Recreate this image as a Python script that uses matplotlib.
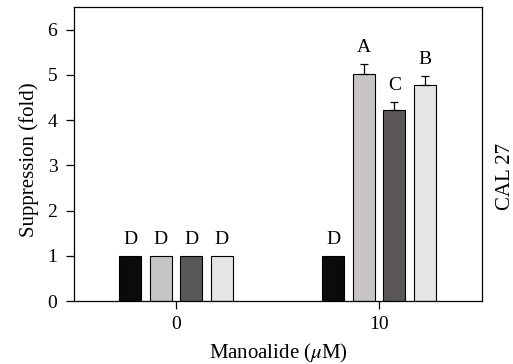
import matplotlib

matplotlib.use('Agg')  # backend to non-interactive
import matplotlib.pyplot as plt
import numpy as np

plt.rcParams['font.family'] = ['Liberation Serif', 'DejaVu Serif']
plt.rcParams['mathtext.fontset'] = 'stix'

# Data
doses = ['0', '10']
values_0 = [1.0, 1.0, 1.0, 1.0]
values_10 = [1.0, 5.02, 4.22, 4.77]
errors_0 = [0, 0, 0, 0]
errors_10 = [0, 0.22, 0.19, 0.21]
letters_0 = ['D', 'D', 'D', 'D']
letters_10 = ['D', 'A', 'C', 'B']
colors = ['#0b0b0b', '#c8c4c3', '#5b5756', '#e5e5e5']

fig = plt.figure(figsize=(5.13, 3.64), dpi=100)
ax = fig.add_axes([74 / 513, 1 - 301 / 364, 408 / 513, 294 / 364])

width = 0.108
step = 0.15
offsets = (np.arange(4) - 1.5) * step

for g, (vals, errs, lets) in enumerate([(values_0, errors_0, letters_0),
                                        (values_10, errors_10, letters_10)]):
    for i in range(4):
        x = g + offsets[i]
        ax.bar(x, vals[i], width, color=colors[i], edgecolor='black',
               linewidth=0.8, zorder=2)
        if errs[i] > 0:
            ax.errorbar(x, vals[i], yerr=[[0], [errs[i]]], fmt='none',
                        ecolor='black', elinewidth=0.9, capsize=3,
                        capthick=0.9, zorder=3)
        ax.text(x, vals[i] + errs[i] + 0.17, lets[i], ha='center',
                va='bottom', fontsize=14)

ax.set_xlim(-0.502, 1.507)
ax.set_ylim(0, 6.5)
ax.set_yticks(range(7))
ax.set_xticks([0, 1])
ax.set_xticklabels(doses)
ax.tick_params(labelsize=14, length=6, width=0.9, pad=5)
ax.tick_params(axis='y', pad=6)
for s in ax.spines.values():
    s.set_linewidth(0.9)

ax.set_ylabel('Suppression (fold)', fontsize=15)
ax.yaxis.set_label_coords(-0.085, 0.48)
ax.set_xlabel(r'Manoalide ($\mu$M)', fontsize=15, labelpad=6)
fig.text(505 / 513, 1 - 176 / 364, 'CAL 27', rotation=90, ha='center',
         va='center', fontsize=15)

plt.savefig('out.png', dpi=100)
plt.close()
